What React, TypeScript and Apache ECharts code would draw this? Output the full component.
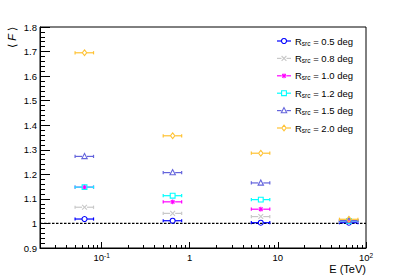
import React, { useEffect, useRef } from 'react';
import * as echarts from 'echarts';

// ---- data ----
const binLow = [0.05, 0.5, 5, 50];
const binHigh = [0.081, 0.81, 8.1, 81];
const binCenter = [0.064, 0.64, 6.4, 64];

const radiusLabels = ['0.5', '0.8', '1.0', '1.2', '1.5', '2.0'];
const meanF_r05 = [1.018, 1.011, 1.003, 1.003];
const meanF_r08 = [1.066, 1.041, 1.028, 1.008];
const meanF_r10 = [1.148, 1.088, 1.058, 1.009];
const meanF_r12 = [1.148, 1.113, 1.097, 1.010];
const meanF_r15 = [1.273, 1.207, 1.165, 1.012];
const meanF_r20 = [1.695, 1.357, 1.286, 1.017];
const allSeries = [meanF_r05, meanF_r08, meanF_r10, meanF_r12, meanF_r15, meanF_r20];

const seriesColors = ['#0000ff', '#c8c8c8', '#ff00ff', '#00ffff', '#6464dc', '#ffc233'];
const markerKinds = ['circle', 'x', 'star', 'square', 'triangle', 'diamond'];

const xMin = 0.02;
const xMax = 100;
const yMin = 0.9;
const yMax = 1.8;
const yStep = 0.1;
const referenceLevel = 1;
const xMajorTicks = [0.1, 1, 10, 100];
const xMinorTicks: number[] = [];
[0.01, 0.1, 1, 10].forEach((d) => {
  for (let k = 2; k <= 9; k++) {
    const v = +(d * k).toPrecision(3);
    if (v > xMin && v < xMax) xMinorTicks.push(v);
  }
});

const FONT = '"Liberation Sans", Arial, Helvetica, sans-serif';

function markerShapes(kind: string, cx: number, cy: number, color: string): any[] {
  const lw = 1.1;
  const s = 2.4;
  const st = { stroke: color, lineWidth: lw, fill: 'none' };
  switch (kind) {
    case 'circle':
      return [{ type: 'circle', shape: { cx, cy, r: 2.5 }, style: { ...st } }];
    case 'x':
      return [
        { type: 'line', shape: { x1: cx - s, y1: cy - s, x2: cx + s, y2: cy + s }, style: { ...st } },
        { type: 'line', shape: { x1: cx - s, y1: cy + s, x2: cx + s, y2: cy - s }, style: { ...st } },
      ];
    case 'star': {
      const d = s * 0.75;
      return [
        { type: 'line', shape: { x1: cx - s, y1: cy, x2: cx + s, y2: cy }, style: { ...st } },
        { type: 'line', shape: { x1: cx, y1: cy - s, x2: cx, y2: cy + s }, style: { ...st } },
        { type: 'line', shape: { x1: cx - d, y1: cy - d, x2: cx + d, y2: cy + d }, style: { ...st } },
        { type: 'line', shape: { x1: cx - d, y1: cy + d, x2: cx + d, y2: cy - d }, style: { ...st } },
      ];
    }
    case 'square':
      return [{ type: 'rect', shape: { x: cx - s, y: cy - s, width: 2 * s, height: 2 * s }, style: { ...st } }];
    case 'triangle':
      return [
        {
          type: 'polygon',
          shape: { points: [[cx, cy - 3], [cx - 2.7, cy + 2.2], [cx + 2.7, cy + 2.2]] },
          style: { ...st },
        },
      ];
    case 'diamond':
    default:
      return [
        {
          type: 'polygon',
          shape: { points: [[cx, cy - 2.9], [cx + 2.2, cy], [cx, cy + 2.9], [cx - 2.2, cy]] },
          style: { ...st },
        },
      ];
  }
}

function errorBarShapes(x1: number, x2: number, cx: number, y: number, color: string): any[] {
  const gap = 2.5;
  const st = { stroke: color, lineWidth: 1.2 };
  const out: any[] = [];
  if (cx - gap > x1) out.push({ type: 'line', shape: { x1, y1: y, x2: cx - gap, y2: y }, style: st });
  if (x2 > cx + gap) out.push({ type: 'line', shape: { x1: cx + gap, y1: y, x2, y2: y }, style: st });
  out.push({ type: 'line', shape: { x1, y1: y - 1.6, x2: x1, y2: y + 1.6 }, style: st });
  out.push({ type: 'line', shape: { x1: x2, y1: y - 1.6, x2, y2: y + 1.6 }, style: st });
  return out;
}

export default function App() {
  const ref = useRef<HTMLDivElement>(null);

  useEffect(() => {
    if (!ref.current) return;
    const chart = echarts.init(ref.current, null, { renderer: 'svg' });

    const grid = { left: 40, right: 41, top: 27, bottom: 28 };

    const customSeries = allSeries.map((vals, si) => ({
      type: 'custom',
      name: `R_src = ${radiusLabels[si]} deg`,
      xAxisIndex: 0,
      yAxisIndex: 0,
      encode: { x: 0, y: 1 },
      data: vals.map((v, i) => [binCenter[i], v, binLow[i], binHigh[i]]),
      renderItem: (params: any, api: any) => {
        const c = api.coord([api.value(0), api.value(1)]);
        const l = api.coord([api.value(2), api.value(1)]);
        const h = api.coord([api.value(3), api.value(1)]);
        const color = seriesColors[si];
        return {
          type: 'group',
          children: [
            ...errorBarShapes(l[0], h[0], c[0], c[1], color),
            ...markerShapes(markerKinds[si], c[0], c[1], color),
          ],
        };
      },
      z: 3 + si,
    }));

    // legend drawn as graphic elements
    const legendChildren: any[] = [];
    const legX0 = 277;
    const legX1 = 291;
    const legTextX = 295;
    const legY0 = 41;
    const legDy = 17.4;
    radiusLabels.forEach((r, i) => {
      const y = legY0 + i * legDy;
      const color = seriesColors[i];
      const mx = (legX0 + legX1) / 2;
      legendChildren.push(...errorBarShapes(legX0, legX1, mx, y, color).slice(0, 2));
      legendChildren.push(...markerShapes(markerKinds[i], mx, y, color));
      legendChildren.push({
        type: 'text',
        x: legTextX,
        y,
        style: {
          text: `R{sub|src} = ${r} deg`,
          fontSize: 9.5,
          fontFamily: FONT,
          fill: '#000',
          verticalAlign: 'middle',
          lineHeight: 11,
          rich: {
            sub: { fontSize: 6.5, fontFamily: FONT, fill: '#000', verticalAlign: 'bottom', lineHeight: 6 },
          },
        },
      });
    });

    const option: any = {
      animation: false,
      backgroundColor: '#fff',
      grid: [
        { ...grid, show: true, borderColor: '#000', borderWidth: 1, backgroundColor: 'transparent' },
        { ...grid, show: false },
      ],
      xAxis: [
        {
          type: 'log',
          logBase: 10,
          min: xMin,
          max: xMax,
          gridIndex: 0,
          position: 'bottom',
          axisLine: { show: true, lineStyle: { color: '#000', width: 1 } },
          axisTick: {
            show: true,
            inside: true,
            length: 6,
            customValues: xMajorTicks,
            lineStyle: { color: '#000', width: 1 },
          },
          minorTick: { show: false },
          splitLine: { show: false },
          axisLabel: {
            customValues: xMajorTicks,
            margin: 4,
            fontSize: 9.5,
            fontFamily: FONT,
            color: '#000',
            lineHeight: 10,
            formatter: (v: number) => {
              if (v >= 1 && v <= 10) return String(Math.round(v));
              const e = Math.round(Math.log10(v));
              return `10{sup|${e}}`;
            },
            rich: {
              sup: { fontSize: 6.5, fontFamily: FONT, color: '#000', verticalAlign: 'top', lineHeight: 6 },
            },
          },
        },
        {
          type: 'log',
          logBase: 10,
          min: xMin,
          max: xMax,
          gridIndex: 1,
          position: 'bottom',
          axisLine: { show: false },
          axisTick: {
            show: true,
            inside: true,
            length: 3,
            customValues: xMinorTicks,
            lineStyle: { color: '#000', width: 1 },
          },
          axisLabel: { show: false },
          splitLine: { show: false },
        },
      ],
      yAxis: [
        {
          type: 'value',
          min: yMin,
          max: yMax,
          interval: yStep,
          gridIndex: 0,
          axisLine: { show: true, lineStyle: { color: '#000', width: 1 } },
          axisTick: { show: true, inside: true, length: 10, lineStyle: { color: '#000', width: 1 } },
          minorTick: { show: true, splitNumber: 5, length: 5, lineStyle: { color: '#000', width: 1 } },
          splitLine: { show: false },
          axisLabel: {
            margin: 3,
            fontSize: 9.5,
            fontFamily: FONT,
            color: '#000',
            formatter: (v: number) => String(+v.toFixed(2)),
          },
        },
        {
          type: 'value',
          min: yMin,
          max: yMax,
          gridIndex: 1,
          show: false,
        },
      ],
      series: [
        {
          type: 'line',
          xAxisIndex: 0,
          yAxisIndex: 0,
          data: [
            [xMin, referenceLevel],
            [xMax, referenceLevel],
          ],
          symbol: 'none',
          lineStyle: { color: '#000', width: 1.2, type: [2.5, 1.5] },
          z: 2,
          silent: true,
        },
        ...customSeries,
      ],
      graphic: [
        { type: 'group', children: legendChildren, z: 100 },
        {
          type: 'text',
          x: 12,
          y: 27,
          rotation: Math.PI / 2,
          style: {
            text: '⟨ {i|F} ⟩',
            fontSize: 11,
            fontFamily: FONT,
            fill: '#000',
            align: 'right',
            verticalAlign: 'middle',
            rich: { i: { fontStyle: 'italic', fontSize: 11, fontFamily: FONT, fill: '#000' } },
          },
        },
        {
          type: 'text',
          x: 366,
          y: 268.5,
          style: {
            text: 'E (TeV)',
            fontSize: 11,
            fontFamily: FONT,
            fill: '#000',
            align: 'right',
            verticalAlign: 'middle',
          },
        },
      ],
    };

    chart.setOption(option);
    return () => chart.dispose();
  }, []);

  return (
    <div
      ref={ref}
      style={{ position: 'fixed', left: 0, top: 0, width: 407, height: 276, background: '#fff' }}
    />
  );
}
